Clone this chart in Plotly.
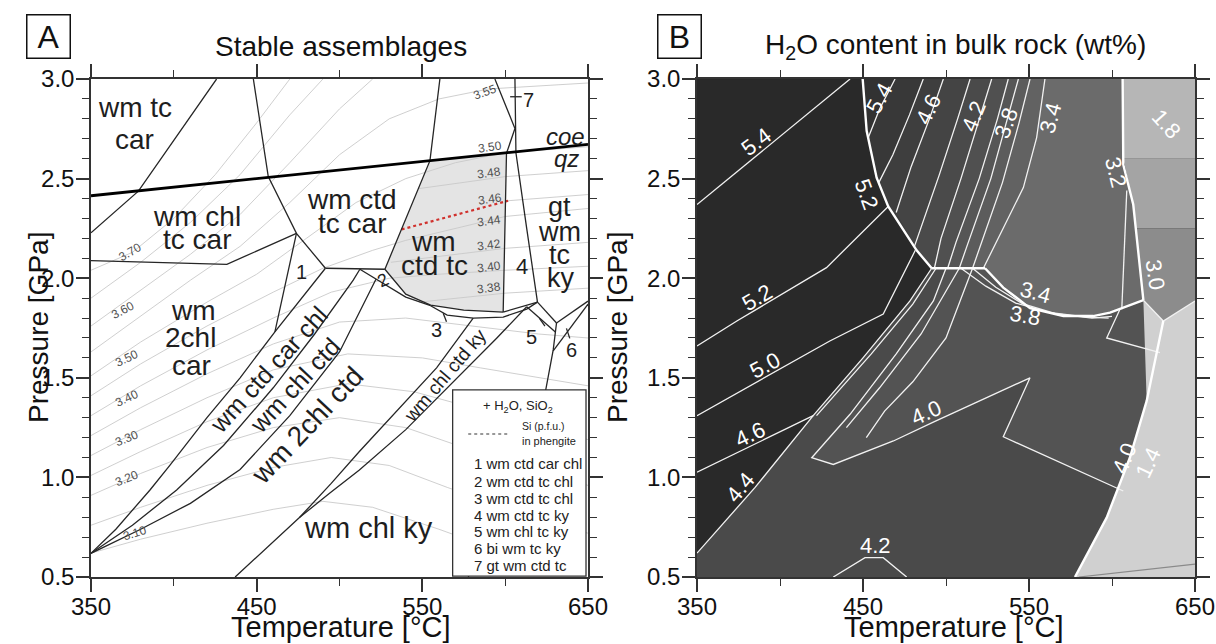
import plotly.graph_objects as go

FONT = "Liberation Sans"
INK = "#262626"

# ======================= DATA (temperature °C, pressure GPa) =======================
# ---- Panel A: phase boundaries ----
wmtccar_T = [425.8, 378.6, 350.0]
wmtccar_P = [3.00, 2.437, 2.228]
ctdin_T = [448.0, 457.0, 474.0, 491.5]
ctdin_P = [3.00, 2.51, 2.225, 2.05]
chltccar_T = [350.0, 432.0, 474.0]
chltccar_P = [2.088, 2.07, 2.225]
field1_T = [474.0, 461.0]
field1_P = [2.225, 1.731]
flat_T = [491.5, 527.4]
flat_P = [2.05, 2.045]
curve1_T = [350.0, 365.0, 385.6, 397.7, 420.0, 440.0, 461.0, 480.0, 491.5]
curve1_P = [0.619, 0.74, 0.937, 1.062, 1.30, 1.50, 1.731, 1.93, 2.05]
curve2_T = [350.0, 375.0, 401.7, 430.0, 460.0, 485.0, 508.3, 512.3]
curve2_P = [0.619, 0.76, 0.937, 1.16, 1.45, 1.72, 1.99, 2.045]
curve3_T = [350.0, 380.0, 410.0, 440.0, 470.0, 500.0, 522.0]
curve3_P = [0.619, 0.74, 0.87, 1.04, 1.31, 1.63, 1.995]
field2_T = [512.3, 522.0, 540.0, 555.0]
field2_P = [2.045, 1.995, 1.905, 1.862]
greyleft_T = [560.6, 554.6, 527.4]
greyleft_P = [3.00, 2.59, 2.045]
greybottom_T = [527.4, 540.0, 555.0, 575.0, 598.8]
greybottom_P = [2.045, 1.92, 1.865, 1.84, 1.83]
field3_T = [555.0, 565.0, 580.7, 598.8, 613.0, 619.5]
field3_P = [1.862, 1.815, 1.80, 1.805, 1.845, 1.88]
field4b_T = [598.8, 619.5]
field4b_P = [1.83, 1.88]
linea_T = [593.8, 605.9, 600.8, 599.6, 598.8]
linea_P = [3.00, 2.752, 2.627, 2.20, 1.83]
lineb_T = [605.9, 606.5, 613.0, 619.5]
lineb_P = [3.00, 2.63, 2.25, 1.88]
kyup_T = [476.0, 495.0, 512.0, 535.0, 558.6, 580.7]
kyup_P = [0.80, 0.97, 1.13, 1.34, 1.55, 1.80]
kylow_T = [437.0, 476.0, 494.0, 512.0, 540.0, 568.7, 595.0, 613.0]
kylow_P = [0.50, 0.80, 0.92, 1.037, 1.24, 1.478, 1.70, 1.857]
linec_T = [619.5, 631.0]
linec_P = [1.88, 1.775]
lined_T = [631.0, 650.0]
lined_P = [1.775, 1.885]
linee_T = [631.0, 629.0, 624.5, 620.9, 610.8, 596.8, 577.7]
linee_P = [1.775, 1.64, 1.44, 1.384, 1.10, 0.798, 0.50]
linef_T = [629.0, 650.0]
linef_P = [1.635, 1.87]
lineg_T = [613.0, 630.3]
lineg_P = [1.857, 1.73]
coeqz_T = [350.0, 650.0]
coeqz_P = [2.414, 2.672]
tick3_T, tick3_P = [562.6, 564.6], [1.824, 1.782]
tick5_T, tick5_P = [620.6, 624.0], [1.80, 1.76]
tick6_T, tick6_P = [637.0, 639.0], [1.748, 1.698]
tick7_T, tick7_P = [603.0, 610.0], [2.911, 2.911]

greyfield_T = [554.6, 527.4, 540.0, 555.0, 575.0, 598.8, 599.6, 600.8]
greyfield_P = [2.59, 2.045, 1.92, 1.865, 1.84, 1.83, 2.20, 2.63]
red346_T = [537.5, 601.8]
red346_P = [2.245, 2.389]

# ---- Panel A: Si (p.f.u.) isopleths in phengite ----
si310_T = [350, 380, 420, 460, 490, 520, 560, 600, 640]
si310_P = [0.62, 0.69, 0.77, 0.84, 0.88, 0.85, 0.74, 0.62, 0.52]
si315_T = [350, 380, 420, 460, 495, 530, 565, 610, 650]
si315_P = [0.76, 0.85, 0.96, 1.05, 1.10, 1.06, 0.95, 0.82, 0.72]
si320_T = [350, 380, 420, 460, 500, 540, 575, 620, 650]
si320_P = [0.91, 1.02, 1.15, 1.25, 1.30, 1.25, 1.15, 1.03, 0.96]
si325_T = [350, 380, 420, 460, 505, 545, 580, 620, 650]
si325_P = [1.01, 1.13, 1.28, 1.40, 1.47, 1.43, 1.35, 1.25, 1.19]
si330_T = [350, 380, 420, 460, 505, 550, 585, 620, 650]
si330_P = [1.11, 1.24, 1.40, 1.54, 1.62, 1.60, 1.55, 1.50, 1.46]
si335_T = [350, 380, 420, 460, 500, 540, 580, 620, 650]
si335_P = [1.21, 1.35, 1.52, 1.67, 1.78, 1.80, 1.76, 1.72, 1.70]
si340_T = [350, 380, 420, 460, 495, 530, 560, 600, 650]
si340_P = [1.31, 1.46, 1.64, 1.80, 1.93, 2.00, 2.02, 2.04, 2.06]
si345_T = [350, 380, 420, 460, 490, 520, 540, 570, 600, 650]
si345_P = [1.41, 1.57, 1.76, 1.93, 2.05, 2.14, 2.19, 2.25, 2.31, 2.35]
si350_T = [350, 380, 420, 450, 480, 510, 540, 570, 600, 650]
si350_P = [1.51, 1.68, 1.88, 2.02, 2.20, 2.38, 2.50, 2.58, 2.63, 2.66]
si355_T = [350, 380, 410, 440, 470, 500, 530, 560, 590, 650]
si355_P = [1.63, 1.81, 1.99, 2.16, 2.38, 2.62, 2.80, 2.90, 2.95, 2.98]
si360_T = [350, 380, 410, 440, 470, 500, 520]
si360_P = [1.76, 1.94, 2.12, 2.32, 2.58, 2.85, 3.00]
si365_T = [350, 380, 410, 440, 470, 490]
si365_P = [1.90, 2.08, 2.28, 2.52, 2.82, 3.00]
si370_T = [350, 375, 400, 425, 450, 470]
si370_P = [2.04, 2.13, 2.30, 2.52, 2.78, 3.00]
si338_T = [548, 575, 600, 650]
si338_P = [1.88, 1.905, 1.925, 1.95]
si342_T = [531, 560, 600, 650]
si342_P = [2.08, 2.11, 2.15, 2.18]
si346_T = [601.8, 650]
si346_P = [2.389, 2.42]
si348_T = [548, 575, 600, 650]
si348_P = [2.45, 2.48, 2.51, 2.54]

# field labels: text, T, P, angle, size
fieldlab_text = ["wm tc", "car", "wm chl", "tc car", "wm ctd", "tc car", "wm", "ctd tc",
                 "gt", "wm", "tc", "ky", "wm", "2chl", "car", "wm chl ky",
                 "wm ctd car chl", "wm chl ctd", "wm 2chl ctd", "wm chl ctd ky",
                 "1", "2", "3", "4", "5", "6", "7", "<i>coe</i>", "<i>qz</i>"]
fieldlab_T = [376.5, 376.5, 413.8, 413.8, 507.5, 507.5, 557.0, 557.6,
              633.0, 633.0, 633.0, 634.0, 411.7, 410.0, 410.5, 517.5,
              457.4, 473.1, 480.5, 563.6,
              477.1, 526.4, 558.6, 610.0, 616.0, 640.0, 614.0, 636.5, 637.0]
fieldlab_P = [2.858, 2.694, 2.309, 2.192, 2.393, 2.277, 2.183, 2.063,
              2.359, 2.233, 2.116, 2.000, 1.840, 1.700, 1.564, 0.746,
              1.543, 1.464, 1.260, 1.514,
              2.033, 1.990, 1.740, 2.058, 1.706, 1.640, 2.895, 2.710, 2.600]
fieldlab_ang = [0, 0, 0, 0, 0, 0, 0, 0, 0, 0, 0, 0, 0, 0, 0, 0,
                -47.6, -47, -46.7, -49.6, 0, -25, 0, 0, 0, 0, 0, 0, 0]
fieldlab_size = [28, 28, 28, 28, 28, 28, 28, 28, 27, 27, 27, 27, 28, 28, 28, 29,
                 25, 25, 28, 19, 20, 18, 20, 22, 20, 20, 20, 24, 24]

isolab_text = ["3.70", "3.60", "3.50", "3.40", "3.30", "3.20", "3.10", "3.55",
               "3.50", "3.48", "3.46", "3.44", "3.42", "3.40", "3.38"]
isolab_T = [373.5, 369.5, 372, 372, 372, 372, 376.6, 587.8, 591, 590, 591, 590, 590, 590, 590]
isolab_P = [2.133, 1.84, 1.598, 1.398, 1.197, 0.996, 0.72, 2.936, 2.66, 2.527, 2.40, 2.289, 2.167, 2.058, 1.949]
isolab_ang = [-30, -28, -25, -25, -22, -22, -18, -20, -8, -8, -8, -8, -8, -8, -8]

legend_items = ["1 wm ctd car chl", "2 wm ctd tc chl", "3 wm ctd tc chl", "4 wm ctd tc ky",
                "5 wm chl tc ky", "6 bi wm tc ky", "7 gt wm ctd tc"]
legend_box_T = [568.3, 648.8]
legend_box_P = [0.505, 1.439]
legend_item_P = [1.071, 0.982, 0.895, 0.811, 0.727, 0.644, 0.560]

# ---- Panel B: H2O content contours ----
curve1B_T = [350, 385, 420, 450, 478.3, 491.4]
curve1B_P = [0.62, 0.95, 1.31, 1.60, 1.886, 2.05]
thickB_T = [449.8, 452.2, 458.2, 465.2, 482.3, 491.4]
thickB_P = [3.00, 2.74, 2.505, 2.36, 2.14, 2.05]
flatB_T = [491.4, 523.5]
flatB_P = [2.05, 2.05]
rightB_T = [606.4, 606.8, 612.8, 618.9]
rightB_P = [3.00, 2.57, 2.37, 1.89]
notchB_T = [618.9, 630.9, 650.0]
notchB_P = [1.89, 1.785, 1.886]
lightB_T = [630.9, 620.9, 610.8, 596.8, 577.7]
lightB_P = [1.785, 1.384, 1.10, 0.798, 0.50]
bc1_T = [523.5, 534.5, 550.6, 570.7, 588.7, 598.8, 618.9]
bc1_P = [2.05, 1.953, 1.85, 1.81, 1.81, 1.827, 1.89]
bc2_T = [516, 530, 546, 566, 588, 600]
bc2_P = [2.05, 1.955, 1.872, 1.822, 1.80, 1.808]
bc3_T = [509, 524, 542, 562, 585, 598]
bc3_P = [2.05, 1.96, 1.875, 1.828, 1.805, 1.80]
c54L_T, c54L_P = [350, 442.2], [2.37, 3.00]
c52L_T, c52L_P = [350, 374, 428, 465.2], [1.66, 1.785, 2.053, 2.36]
c50_T, c50_P = [350, 430, 462.2, 481.5], [1.31, 1.685, 1.82, 2.14]
c46L_T, c46L_P = [350, 420], [1.026, 1.31]
c46R_T, c46R_P = [422, 455, 480, 494], [1.31, 1.62, 1.87, 2.05]
c40_T = [500, 492.4, 470, 442.2, 419.1, 432.1, 468.3, 493, 550.6, 534.5, 606.8]
c40_P = [2.05, 1.886, 1.62, 1.317, 1.099, 1.065, 1.183, 1.28, 1.50, 1.204, 0.932]
xB_T, xB_P = [440, 460, 485, 508], [1.25, 1.45, 1.72, 2.05]
yB_T, yB_P = [452, 463, 480, 500, 516], [1.20, 1.333, 1.48, 1.70, 2.05]
m1_T, m1_P = [469.3, 460, 453.2], [3.0, 2.85, 2.706]
m2_T, m2_P = [486.3, 478, 468, 459.5], [3.0, 2.82, 2.62, 2.48]
m3_T, m3_P = [498.4, 490, 479, 470], [3.0, 2.80, 2.56, 2.33]
m4_T, m4_P = [514.5, 507, 496, 485, 481], [3.0, 2.80, 2.52, 2.25, 2.16]
m5_T, m5_P = [527.5, 520, 509, 497, 493], [3.0, 2.80, 2.50, 2.20, 2.05]
m6_T, m6_P = [537.5, 531, 520, 506, 501], [3.0, 2.80, 2.50, 2.18, 2.05]
m7_T, m7_P = [543.6, 537, 527, 513, 508], [3.0, 2.80, 2.50, 2.17, 2.05]
m8_T, m8_P = [550.6, 544, 534, 520, 516], [3.0, 2.78, 2.48, 2.14, 2.05]
m9_T, m9_P = [559.6, 554.6, 546.6, 522.5], [3.0, 2.706, 2.455, 2.05]
c42b_T, c42b_P = [432.1, 451.2, 462.2, 476.3], [0.5, 0.597, 0.597, 0.5]
r5B_T, r5B_P = [604.8, 596.8, 628.9], [1.844, 1.70, 1.626]
c30B_T, c30B_P = [608.9, 605.9], [2.44, 1.844]
slivB_T, slivB_P = [580, 650], [0.5, 0.565]

band_gray = ["#383838", "#3e3e3e", "#444444", "#4a4a4a", "#505050", "#565656", "#5c5c5c", "#626262", "#6b6b6b"]

Blab_text = ["5.4", "5.2", "5.0", "4.6", "4.4", "5.2", "5.4", "4.6", "4.2", "3.8", "3.4",
             "1.8", "3.2", "3.0", "3.4", "3.8", "4.0", "4.0", "1.4", "4.2"]
Blab_T = [386, 386.3, 391, 382, 376, 452.2, 460.2, 489.3, 516.5, 536.6, 563.1,
          633, 602.2, 626.3, 554, 547.6, 488.4, 607.8, 622, 457.6]
Blab_P = [2.685, 1.902, 1.56, 1.213, 0.95, 2.42, 2.906, 2.848, 2.814, 2.78, 2.806,
          2.773, 2.53, 2.016, 1.927, 1.815, 1.325, 1.099, 1.074, 0.656]
Blab_ang = [-37, -30, -28, -25, -50, 70, -62, -65, -68, -70, -75,
            48, 76, 82, 15, 10, -24, -68, -65, 0]

# ======================= FIGURE =======================
fig = go.Figure()


def poly(T, P, color, xa="x", ya="y"):
    fig.add_trace(go.Scatter(x=T, y=P, mode="lines", fill="toself", fillcolor=color,
                             line=dict(width=0), hoverinfo="skip", showlegend=False,
                             xaxis=xa, yaxis=ya))


def line(T, P, color=INK, width=1.3, dash=None, xa="x", ya="y"):
    fig.add_trace(go.Scatter(x=T, y=P, mode="lines",
                             line=dict(color=color, width=width, dash=dash),
                             hoverinfo="skip", showlegend=False, xaxis=xa, yaxis=ya))


# ---------- Panel A ----------
poly(greyfield_T, greyfield_P, "#e4e4e4")
for T, P in [(si310_T, si310_P), (si315_T, si315_P), (si320_T, si320_P), (si325_T, si325_P),
             (si330_T, si330_P), (si335_T, si335_P), (si340_T, si340_P), (si345_T, si345_P),
             (si350_T, si350_P), (si355_T, si355_P), (si360_T, si360_P), (si365_T, si365_P),
             (si370_T, si370_P), (si338_T, si338_P), (si342_T, si342_P), (si346_T, si346_P),
             (si348_T, si348_P)]:
    line(T, P, "#c9c9c9", 0.9)
line(red346_T, red346_P, "#d0312d", 2.2, "dot")
for T, P in [(wmtccar_T, wmtccar_P), (ctdin_T, ctdin_P), (chltccar_T, chltccar_P),
             (field1_T, field1_P), (flat_T, flat_P), (curve1_T, curve1_P), (curve2_T, curve2_P),
             (curve3_T, curve3_P), (field2_T, field2_P), (greyleft_T, greyleft_P),
             (greybottom_T, greybottom_P), (field3_T, field3_P), (field4b_T, field4b_P),
             (linea_T, linea_P), (lineb_T, lineb_P), (kyup_T, kyup_P), (kylow_T, kylow_P),
             (linec_T, linec_P), (lined_T, lined_P), (linee_T, linee_P), (linef_T, linef_P),
             (lineg_T, lineg_P), (tick3_T, tick3_P), (tick5_T, tick5_P), (tick6_T, tick6_P),
             (tick7_T, tick7_P)]:
    line(T, P, INK, 1.3)
line(coeqz_T, coeqz_P, "#000000", 2.8)

# ---------- Panel B ----------
XB, YB = "x2", "y2"
lowB_T = curve1B_T + [523.5] + bc1_T[1:] + lightB_T + [350]
lowB_P = curve1B_P + [2.05] + bc1_P[1:] + lightB_P + [0.5]
poly(lowB_T, lowB_P, "#4a4a4a", XB, YB)
wedge_T = c40_T + lightB_T[2::-1][1:] + bc1_T[::-1]
wedge_P = c40_P + lightB_P[2::-1][1:] + bc1_P[::-1]
poly(wedge_T, wedge_P, "#535353", XB, YB)

tail_T = [523.5] + bc1_T[1:] + rightB_T[::-1]
tail_P = [2.05] + bc1_P[1:] + rightB_P[::-1]
poly(thickB_T + tail_T, thickB_P + tail_P, "#323232", XB, YB)
mlines = [(m1_T, m1_P), (m2_T, m2_P), (m3_T, m3_P), (m4_T, m4_P), (m5_T, m5_P),
          (m6_T, m6_P), (m7_T, m7_P), (m8_T, m8_P), (m9_T, m9_P)]
for (T, P), col in zip(mlines, band_gray):
    endP = P[-1]
    th_T = [t for t, p in zip(thickB_T, thickB_P) if p < endP]
    th_P = [p for p in thickB_P if p < endP]
    poly(T + th_T + tail_T, P + th_P + tail_P, col, XB, YB)

# light fields on the right
poly([606.4, 650, 650, 606.8], [3.0, 3.0, 2.6, 2.6], "#b6b6b6", XB, YB)
poly([606.8, 650, 650, 614.3, 612.8], [2.6, 2.6, 2.25, 2.25, 2.37], "#a4a4a4", XB, YB)
poly([614.3, 650, 650, 630.9, 618.9], [2.25, 2.25, 1.886, 1.785, 1.89], "#8c8c8c", XB, YB)
poly(notchB_T[::-1] + lightB_T[1:] + [650], notchB_P[::-1] + lightB_P[1:] + [0.5], "#d0d0d0", XB, YB)

W = "#f2f2f2"
for T, P in [(c54L_T, c54L_P), (c52L_T, c52L_P), (c50_T, c50_P), (c46L_T, c46L_P),
             (c46R_T, c46R_P), (curve1B_T, curve1B_P), (c40_T, c40_P), (xB_T, xB_P),
             (yB_T, yB_P), (m1_T, m1_P), (m2_T, m2_P), (m3_T, m3_P), (m4_T, m4_P),
             (m5_T, m5_P), (m6_T, m6_P), (m7_T, m7_P), (m8_T, m8_P), (m9_T, m9_P),
             (bc2_T, bc2_P), (bc3_T, bc3_P), (c42b_T, c42b_P), (r5B_T, r5B_P),
             (c30B_T, c30B_P), (notchB_T, notchB_P)]:
    line(T, P, W, 1.3, xa=XB, ya=YB)
line(slivB_T, slivB_P, "#8a8a8a", 1.2, xa=XB, ya=YB)
for T, P in [(thickB_T, thickB_P), (flatB_T, flatB_P), (bc1_T, bc1_P),
             (rightB_T, rightB_P), (lightB_T, lightB_P)]:
    line(T, P, "#ffffff", 2.4, xa=XB, ya=YB)

# ---------- annotations ----------
ann = []


def note(text, x, y, xref, yref, size, color="#111", angle=0, xanchor="center", **kw):
    d = dict(text=text, x=x, y=y, xref=xref, yref=yref, textangle=angle, showarrow=False,
             xanchor=xanchor, yanchor="middle", font=dict(family=FONT, size=size, color=color))
    d.update(kw)
    ann.append(d)


for t, x, y, a, s in zip(fieldlab_text, fieldlab_T, fieldlab_P, fieldlab_ang, fieldlab_size):
    note(t, x, y, "x", "y", s, "#1e1e1e", a)
for t, x, y, a in zip(isolab_text, isolab_T, isolab_P, isolab_ang):
    note(t, x, y, "x", "y", 12, "#505050", a)
for t, x, y, a in zip(Blab_text, Blab_T, Blab_P, Blab_ang):
    note(t, x, y, "x2", "y2", 22, "#ffffff", a)

# legend box in panel A
shapes = [dict(type="rect", xref="x", yref="y", x0=legend_box_T[0], x1=legend_box_T[1],
               y0=legend_box_P[0], y1=legend_box_P[1], fillcolor="white",
               line=dict(color="#333", width=1.3), layer="above")]
shapes.append(dict(type="line", xref="x", yref="y", x0=577.7, x1=601.8, y0=1.218, y1=1.218,
                   line=dict(color="#777", width=1.5, dash="dot"), layer="above"))
shapes.append(dict(type="rect", xref="x2 domain", yref="y2 domain", x0=0, x1=1, y0=0, y1=1,
                   fillcolor="#292929", line=dict(width=0), layer="below"))
note("+ H<sub>2</sub>O, SiO<sub>2</sub>", 607.9, 1.355, "x", "y", 13, "#222")
note("Si (p.f.u.)", 608.9, 1.258, "x", "y", 10.5, "#222", xanchor="left")
note("in phengite", 608.9, 1.183, "x", "y", 11, "#222", xanchor="left")
for t, y in zip(legend_items, legend_item_P):
    note(t, 579.7, y, "x", "y", 15, "#222", xanchor="left")

# titles, panel letters, axis titles
note("Stable assemblages", 341 / 1216, 1 - 47 / 644, "paper", "paper", 28)
note("H<sub>2</sub>O content in bulk rock (wt%)", 955 / 1216, 1 - 47 / 644, "paper", "paper", 28)
for letter, cx in [("A", 48), ("B", 679)]:
    note(letter, cx / 1216, 1 - 36.6 / 644, "paper", "paper", 32,
         width=40, height=40, borderpad=1, bordercolor="#111", borderwidth=1.5)
for cx in [341, 954]:
    note("Temperature [°C]", cx / 1216, 1 - 627 / 644, "paper", "paper", 29)
for cx in [38, 617]:
    note("Pressure [GPa]", cx / 1216, 1 - 328 / 644, "paper", "paper", 28, angle=-90)


def xax(dom):
    return dict(domain=dom, range=[350, 650], tick0=350, dtick=100, showline=True,
                linecolor="#333", linewidth=1.5, mirror="ticks", ticks="outside",
                ticklen=13, tickwidth=1.5, tickcolor="#333", showgrid=False, zeroline=False,
                automargin=False, ticklabelstandoff=-6,
                tickfont=dict(family=FONT, size=24, color="#111"),
                minor=dict(dtick=50, tick0=350, ticks="outside", ticklen=7, tickwidth=1.2,
                           tickcolor="#333", showgrid=False))


def yax(anchor):
    return dict(domain=[0.1040, 0.8773], range=[0.5, 3.0], tick0=0.5, dtick=0.5,
                tickformat=".1f", showline=True, linecolor="#333", linewidth=1.5,
                mirror="ticks", ticks="outside", ticklen=13, tickwidth=1.5, tickcolor="#333",
                showgrid=False, zeroline=False, automargin=False, anchor=anchor,
                ticklabelstandoff=-3,
                tickfont=dict(family=FONT, size=24, color="#111"),
                minor=dict(dtick=0.1, tick0=0.5, ticks="outside", ticklen=7, tickwidth=1.2,
                           tickcolor="#333", showgrid=False))


fig.update_layout(
    template="none", width=1216, height=644, margin=dict(l=0, r=0, t=0, b=0),
    paper_bgcolor="white", plot_bgcolor="white", showlegend=False,
    xaxis=xax([91 / 1216, 588 / 1216]), yaxis=yax("x"),
    xaxis2=dict(xax([697 / 1216, 1195 / 1216]), anchor="y2"), yaxis2=yax("x2"),
    annotations=ann, shapes=shapes,
)
fig.write_html("out.html")
